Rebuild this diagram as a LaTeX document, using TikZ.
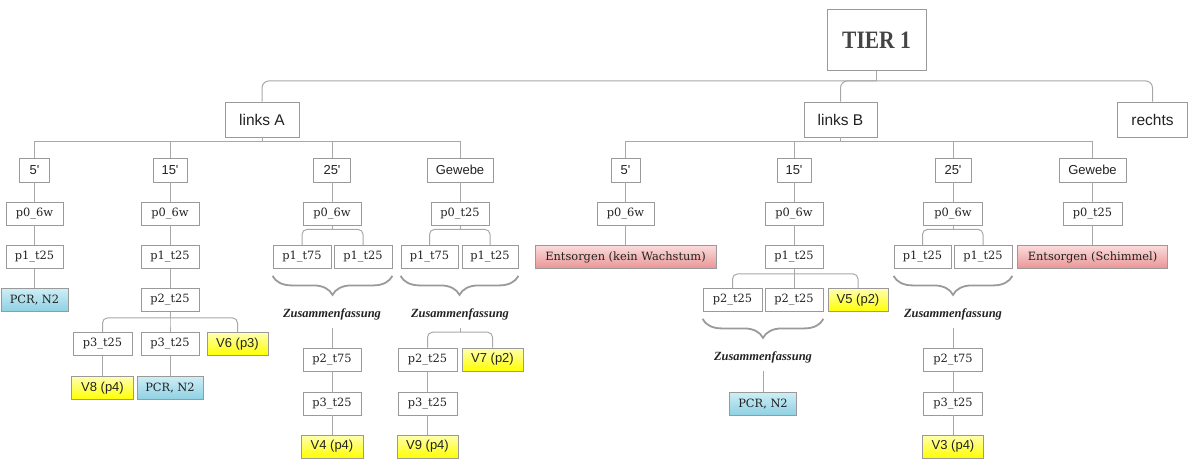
\documentclass[tikz,border=0pt]{standalone}
\usepackage{fontspec}
\usepackage{graphicx}
\setmainfont{DejaVu Serif}
\newfontfamily\sansf{Liberation Sans}
\newfontfamily\tierf{Liberation Serif}
\usetikzlibrary{decorations.pathreplacing}

\definecolor{boxline}{HTML}{9A9A9A}
\definecolor{wire}{HTML}{A8A8A8}
\definecolor{txt}{HTML}{222222}
\definecolor{cyanT}{HTML}{CDEEF6}
\definecolor{cyanB}{HTML}{8ED0E2}
\definecolor{yelT}{HTML}{FFFFB0}
\definecolor{yelB}{HTML}{FFFF00}
\definecolor{redT}{HTML}{FBDADA}
\definecolor{redB}{HTML}{E99595}

\tikzset{
  box/.style={draw=boxline, fill=white, line width=0.8pt, inner sep=0pt,
    minimum height=23pt, text=txt, font=\fontsize{11.4}{13}\selectfont},
  sbox/.style={box, font=\sansf\fontsize{13}{15}\selectfont},
  headbox/.style={box, minimum height=35pt, font=\sansf\fontsize{15.5}{18}\selectfont},
  pcr/.style={box, top color=cyanT, bottom color=cyanB},
  vbox/.style={sbox, top color=yelT, bottom color=yelB},
  trash/.style={box, top color=redT, bottom color=redB},
  summary/.style={inner sep=0pt, minimum height=28pt, text=txt,
    font=\tierf\bfseries\itshape\fontsize{12.5}{14}\selectfont},
  conn/.style={draw=wire, line width=1pt},
  bus/.style={conn, rounded corners=5pt},
  curly/.style={draw=boxline, line width=1.8pt,
    decorate, decoration={brace, mirror, amplitude=19pt}}
}

\begin{document}
\begin{tikzpicture}[x=1pt, y=-1pt]
\useasboundingbox (0,0) rectangle (1188,459);

% ---------- root and main branches ----------
\node[box, minimum width=99pt, minimum height=61pt] (tier) at (876.5,40)
  {\textcolor[HTML]{444444}{\scalebox{0.86}[1]{\tierf\bfseries\fontsize{25}{28}\selectfont TIER 1}}};
\node[headbox, minimum width=74pt] (la) at (262,119.5) {links A};
\node[headbox, minimum width=73pt] (lb) at (840.5,119.5) {links B};
\node[headbox, minimum width=70pt] (re) at (1152.5,119.5) {rechts};

\draw[conn] (tier.south) -- ++(0,10) coordinate (tj);
\foreach \c in {la,lb,re}
  \draw[bus, rounded corners=7pt] (tj) -| (\c.north);

% ---------- links A ----------
\node[sbox, minimum width=30pt, minimum height=24pt] (a5) at (34.5,170) {5'};
\node[sbox, minimum width=34pt, minimum height=24pt] (a15) at (170,170) {15'};
\node[sbox, minimum width=37pt, minimum height=24pt] (a25) at (332,170) {25'};
\node[sbox, minimum width=66pt, minimum height=24pt] (ag) at (460,170) {Gewebe};

\foreach \c in {a5,a15,a25,ag}
  \draw[conn] (la.south) -- ++(0,4) -| (\c.north);

% 5'
\node[box, minimum width=57pt] (a5p0) at (34.5,213.5) {p0\_6w};
\node[box, minimum width=57pt] (a5p1) at (34.5,257) {p1\_t25};
\node[pcr, minimum width=67pt] (a5pcr) at (34.5,300) {PCR, N2};
\draw[conn] (a5.south) -- (a5p0.north);
\draw[conn] (a5p0.south) -- (a5p1.north);
\draw[conn] (a5p1.south) -- (a5pcr.north);

% 15'
\node[box, minimum width=58pt] (a15p0) at (170,213.5) {p0\_6w};
\node[box, minimum width=58pt] (a15p1) at (170,257) {p1\_t25};
\node[box, minimum width=58pt] (a15p2) at (170,300) {p2\_t25};
\node[box, minimum width=59pt] (a15p3a) at (102.5,344) {p3\_t25};
\node[box, minimum width=58pt] (a15p3b) at (170,344) {p3\_t25};
\node[vbox, minimum width=61pt] (a15v6) at (237.5,344) {V6 (p3)};
\node[vbox, minimum width=62pt] (a15v8) at (102.5,388) {V8 (p4)};
\node[pcr, minimum width=66pt] (a15pcr) at (170,388) {PCR, N2};
\draw[conn] (a15.south) -- (a15p0.north);
\draw[conn] (a15p0.south) -- (a15p1.north);
\draw[conn] (a15p1.south) -- (a15p2.north);
\draw[conn] (a15p2.south) -- ++(0,6) coordinate (a15j);
\foreach \c in {a15p3a,a15p3b,a15v6}
  \draw[bus] (a15j) -| (\c.north);
\draw[conn] (a15p3a.south) -- (a15v8.north);
\draw[conn] (a15p3b.south) -- (a15pcr.north);

% 25'
\node[box, minimum width=58pt] (a25p0) at (332,213.5) {p0\_6w};
\node[box, minimum width=58pt] (a25p1a) at (302,257) {p1\_t75};
\node[box, minimum width=58pt] (a25p1b) at (363,257) {p1\_t25};
\node[summary] (a25z) at (332,314) {Zusammenfassung};
\node[box, minimum width=58pt] (a25p2) at (332,359.5) {p2\_t75};
\node[box, minimum width=58pt] (a25p3) at (332,403.5) {p3\_t25};
\node[vbox, minimum width=62pt] (a25v4) at (332,446.5) {V4 (p4)};
\draw[conn] (a25.south) -- (a25p0.north);
\draw[conn] (a25p0.south) -- ++(0,4) coordinate (a25j);
\foreach \c in {a25p1a,a25p1b}
  \draw[bus] (a25j) -| (\c.north);
\path (a25p1a.south west) ++(0,7) coordinate (a25bl)
  (a25p1b.south east) ++(0,7) coordinate (a25br);
\draw[curly] (a25bl) -- (a25br);
\draw[conn] (a25z.south) -- (a25p2.north);
\draw[conn] (a25p2.south) -- (a25p3.north);
\draw[conn] (a25p3.south) -- (a25v4.north);

% Gewebe
\node[box, minimum width=58pt] (agp0) at (460,213.5) {p0\_t25};
\node[box, minimum width=57pt] (agp1a) at (429.5,257) {p1\_t75};
\node[box, minimum width=56pt] (agp1b) at (490,257) {p1\_t25};
\node[summary] (agz) at (460,314) {Zusammenfassung};
\node[box, minimum width=59pt] (agp2) at (427.5,359.5) {p2\_t25};
\node[vbox, minimum width=61pt] (agv7) at (492.5,359.5) {V7 (p2)};
\node[box, minimum width=59pt] (agp3) at (427.5,403.5) {p3\_t25};
\node[vbox, minimum width=61pt] (agv9) at (427.5,446.5) {V9 (p4)};
\draw[conn] (ag.south) -- (agp0.north);
\draw[conn] (agp0.south) -- ++(0,4) coordinate (agj);
\foreach \c in {agp1a,agp1b}
  \draw[bus] (agj) -| (\c.north);
\path (agp1a.south west) ++(0,7) coordinate (agbl)
  (agp1b.south east) ++(0,7) coordinate (agbr);
\draw[curly] (agbl) -- (agbr);
\draw[conn] (agz.south) -- ++(0,4) coordinate (agzj);
\foreach \c in {agp2,agv7}
  \draw[bus] (agzj) -| (\c.north);
\draw[conn] (agp2.south) -- (agp3.north);
\draw[conn] (agp3.south) -- (agv9.north);

% ---------- links B ----------
\node[sbox, minimum width=29pt, minimum height=24pt] (b5) at (625.5,170) {5'};
\node[sbox, minimum width=34pt, minimum height=24pt] (b15) at (794,170) {15'};
\node[sbox, minimum width=36pt, minimum height=24pt] (b25) at (953,170) {25'};
\node[sbox, minimum width=67pt, minimum height=24pt] (bg) at (1092.5,170) {Gewebe};

\foreach \c in {b5,b15,b25,bg}
  \draw[conn] (lb.south) -- ++(0,4) -| (\c.north);

% 5'
\node[box, minimum width=57pt] (b5p0) at (625.5,213.5) {p0\_6w};
\node[trash, minimum width=181pt] (b5ent) at (625.5,257) {Entsorgen (kein Wachstum)};
\draw[conn] (b5.south) -- (b5p0.north);
\draw[conn] (b5p0.south) -- (b5ent.north);

% 15'
\node[box, minimum width=58pt] (b15p0) at (794,213.5) {p0\_6w};
\node[box, minimum width=58pt] (b15p1) at (794,257) {p1\_t25};
\node[box, minimum width=59pt] (b15p2a) at (732.5,300) {p2\_t25};
\node[box, minimum width=58pt] (b15p2b) at (794,300) {p2\_t25};
\node[vbox, minimum width=60pt] (b15v5) at (858,300) {V5 (p2)};
\node[summary] (b15z) at (763,357) {Zusammenfassung};
\node[pcr, minimum width=67pt] (b15pcr) at (763,404) {PCR, N2};
\draw[conn] (b15.south) -- (b15p0.north);
\draw[conn] (b15p0.south) -- (b15p1.north);
\draw[conn] (b15p1.south) -- ++(0,5) coordinate (b15j);
\foreach \c in {b15p2a,b15p2b,b15v5}
  \draw[bus] (b15j) -| (\c.north);
\path (b15p2a.south west) ++(0,7) coordinate (b15bl)
  (b15p2b.south east) ++(0,7) coordinate (b15br);
\draw[curly] (b15bl) -- (b15br);
\draw[conn] (b15z.south) -- (b15pcr.north);

% 25'
\node[box, minimum width=59pt] (b25p0) at (953,213.5) {p0\_6w};
\node[box, minimum width=57pt] (b25p1a) at (922.5,257) {p1\_t25};
\node[box, minimum width=58pt] (b25p1b) at (983,257) {p1\_t25};
\node[summary] (b25z) at (953,314) {Zusammenfassung};
\node[box, minimum width=59pt] (b25p2) at (953,359.5) {p2\_t75};
\node[box, minimum width=59pt] (b25p3) at (953,403.5) {p3\_t25};
\node[vbox, minimum width=61pt] (b25v3) at (953,446.5) {V3 (p4)};
\draw[conn] (b25.south) -- (b25p0.north);
\draw[conn] (b25p0.south) -- ++(0,4) coordinate (b25j);
\foreach \c in {b25p1a,b25p1b}
  \draw[bus] (b25j) -| (\c.north);
\path (b25p1a.south west) ++(0,7) coordinate (b25bl)
  (b25p1b.south east) ++(0,7) coordinate (b25br);
\draw[curly] (b25bl) -- (b25br);
\draw[conn] (b25z.south) -- (b25p2.north);
\draw[conn] (b25p2.south) -- (b25p3.north);
\draw[conn] (b25p3.south) -- (b25v3.north);

% Gewebe
\node[box, minimum width=59pt] (bgp0) at (1092.5,213.5) {p0\_t25};
\node[trash, minimum width=150pt] (bgent) at (1092.5,257) {Entsorgen (Schimmel)};
\draw[conn] (bg.south) -- (bgp0.north);
\draw[conn] (bgp0.south) -- (bgent.north);
\end{tikzpicture}
\end{document}
